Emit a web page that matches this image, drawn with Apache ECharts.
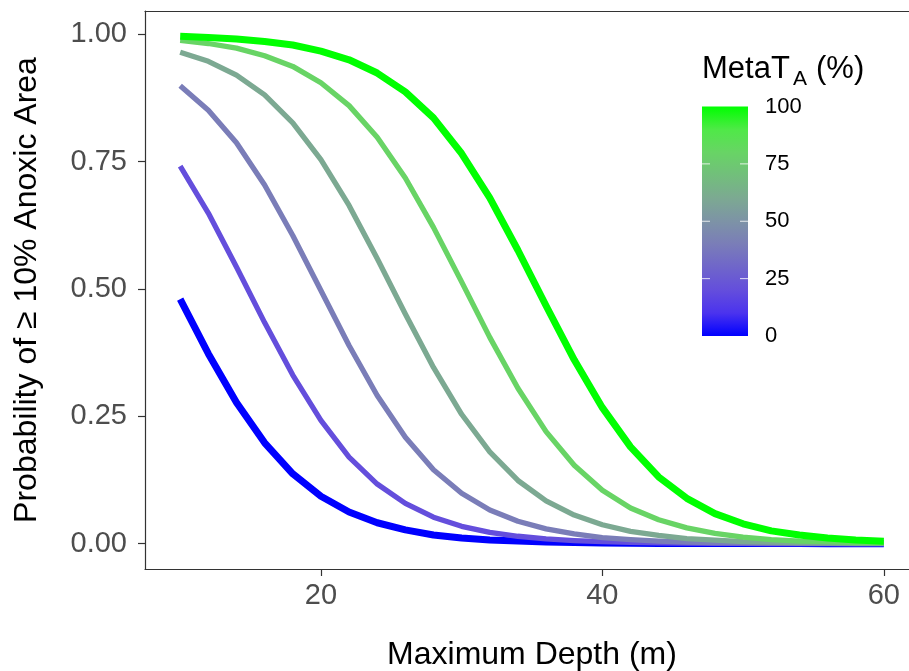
<!DOCTYPE html>
<html>
<head>
<meta charset="utf-8">
<script src="https://cdn.jsdelivr.net/npm/echarts@6/dist/echarts.min.js"></script>
<style>
html,body{margin:0;padding:0;background:#fff;}
#chart{width:909px;height:671px;}
</style>
</head>
<body>
<div id="chart"></div>
<script>
// Depth (m) at which each curve is drawn
var depths = [10,12,14,16,18,20,22,24,26,28,30,32,34,36,38,40,42,44,46,48,50,52,54,56,58,60];
// MetaT_A (%) of each curve
var metaT = [0, 20, 40, 60, 80, 100];
// Probability values, one array per curve
var p0   = [0.480,0.373,0.277,0.198,0.137,0.093,0.062,0.041,0.027,0.017,0.011,0.007,0.005,0.003,0.002,0.0013,0.0008,0.0005,0.0003,0.0002,0.0001,0.0001,0.0001,0.0000,0.0000,0.0000];
var p20  = [0.741,0.649,0.543,0.434,0.331,0.242,0.170,0.117,0.079,0.052,0.034,0.022,0.0145,0.0094,0.0061,0.0039,0.0025,0.0016,0.0011,0.0007,0.0004,0.0003,0.0002,0.0001,0.0001,0.0000];
var p40  = [0.899,0.851,0.787,0.704,0.605,0.497,0.389,0.291,0.209,0.145,0.099,0.066,0.044,0.029,0.019,0.012,0.008,0.005,0.003,0.002,0.0014,0.0009,0.0006,0.0004,0.0002,0.0002];
var p60  = [0.965,0.947,0.920,0.881,0.826,0.754,0.664,0.560,0.451,0.346,0.254,0.180,0.124,0.084,0.056,0.037,0.024,0.016,0.010,0.007,0.004,0.003,0.002,0.001,0.0007,0.0005];
var p80  = [0.988,0.982,0.973,0.958,0.937,0.905,0.860,0.798,0.718,0.621,0.514,0.405,0.305,0.220,0.154,0.105,0.070,0.047,0.031,0.020,0.013,0.008,0.005,0.004,0.002,0.0014];
var p100 = [0.996,0.994,0.991,0.986,0.979,0.967,0.950,0.924,0.887,0.836,0.766,0.679,0.576,0.467,0.361,0.267,0.190,0.131,0.089,0.059,0.039,0.025,0.017,0.011,0.007,0.0045];
var curves = [p0, p20, p40, p60, p80, p100];
// Colour of each curve (blue -> green gradient at its MetaT value)
var curveColors = ['#0000FF','#644EDC','#7A7DB8','#7CA992','#68D465','#00FF00'];
var curveWidths = [7, 5.3, 5.3, 5.3, 5.3, 7];
// Axis tick labels
var yTicks = [0, 0.25, 0.5, 0.75, 1];
var xTicks = [20, 40, 60];
// Colour bar
var barTicks = [0, 25, 50, 75, 100];
var barStops = [[0,'#00FF00'],[0.1,'#4FE947'],[0.2,'#68D465'],[0.4,'#7CA992'],[0.5,'#7D93A6'],[0.6,'#7A7DB8'],[0.8,'#644EDC'],[0.9,'#4B33EE'],[1,'#0000FF']];

var FONT = '"Liberation Sans", Arial, sans-serif';
var chart = echarts.init(document.getElementById('chart'), null, {renderer:'canvas'});

var series = curves.map(function(vals, i){
  return {
    type:'line', name: String(metaT[i]), showSymbol:false, symbol:'none', silent:true,
    xAxisIndex:0, yAxisIndex:0,
    data: depths.map(function(d, j){ return [d, vals[j]]; }),
    lineStyle:{color: curveColors[i], width: curveWidths[i], cap:'butt', join:'round'},
    z: 2 + i
  };
});

// colour bar geometry
var cbX = 702, cbTop = 106.5, cbW = 46, cbH = 229.5;
var graphics = [];
graphics.push({type:'rect', shape:{x:cbX, y:cbTop, width:cbW, height:cbH},
  style:{fill: new echarts.graphic.LinearGradient(0,0,0,1, barStops.map(function(s){return {offset:s[0], color:s[1]};}))}, z:10});
barTicks.forEach(function(v){
  var y = cbTop + cbH * (1 - v/100);
  if (v !== 0 && v !== 100) {
    graphics.push({type:'line', shape:{x1:cbX, y1:y, x2:cbX+8, y2:y}, style:{stroke:'rgba(255,255,255,0.8)', lineWidth:1}, z:11});
    graphics.push({type:'line', shape:{x1:cbX+cbW-8, y1:y, x2:cbX+cbW, y2:y}, style:{stroke:'rgba(255,255,255,0.8)', lineWidth:1}, z:11});
  }
  graphics.push({type:'text', x:765, y:y, style:{text:String(v), font:'22px '+FONT, fill:'#000', verticalAlign:'middle', align:'left'}, z:11});
});
graphics.push({type:'text', x:702, y:69, style:{text:'MetaT', font:'31px '+FONT, fill:'#000', verticalAlign:'middle', align:'left'}, z:11});
graphics.push({type:'text', x:793, y:79, style:{text:'A', font:'21px '+FONT, fill:'#000', verticalAlign:'middle', align:'left'}, z:11});
graphics.push({type:'text', x:816, y:69, style:{text:'(%)', font:'31px '+FONT, fill:'#000', verticalAlign:'middle', align:'left'}, z:11});

chart.setOption({
  animation:false,
  backgroundColor:'#ffffff',
  grid:{left:145, top:11, right:-10, bottom:102, show:false, containLabel:false, outerBoundsMode:'none'},
  xAxis:[{
    type:'value', min:7.5, max:62.5,
    name:'Maximum Depth (m)', nameLocation:'middle', nameGap:70,
    nameTextStyle:{fontFamily:FONT, fontSize:32, color:'#000'},
    axisLine:{show:true, onZero:false, lineStyle:{color:'#333', width:1.2}},
    axisTick:{show:true, length:7, lineStyle:{color:'#333', width:1.2}, customValues:xTicks},
    axisLabel:{show:true, margin:12, fontFamily:FONT, fontSize:29, color:'#4D4D4D', customValues:xTicks},
    splitLine:{show:false}
  },{
    type:'value', min:7.5, max:62.5, position:'top',
    axisLine:{show:true, onZero:false, lineStyle:{color:'#333', width:1.2}},
    axisTick:{show:false}, axisLabel:{show:false}, splitLine:{show:false}
  }],
  yAxis:{
    type:'value', min:-0.0498, max:1.0458,
    name:'Probability of \u2265 10% Anoxic Area', nameLocation:'middle', nameGap:102,
    nameTextStyle:{fontFamily:FONT, fontSize:32, color:'#000'},
    axisLine:{show:true, onZero:false, lineStyle:{color:'#333', width:1.2}},
    axisTick:{show:true, length:7, lineStyle:{color:'#333', width:1.2}, customValues:yTicks},
    axisLabel:{show:true, margin:18, fontFamily:FONT, fontSize:29, color:'#4D4D4D', customValues:yTicks,
      formatter:function(v){ return v.toFixed(2); }},
    splitLine:{show:false}
  },
  graphic: graphics,
  series: series
});
</script>
</body>
</html>
